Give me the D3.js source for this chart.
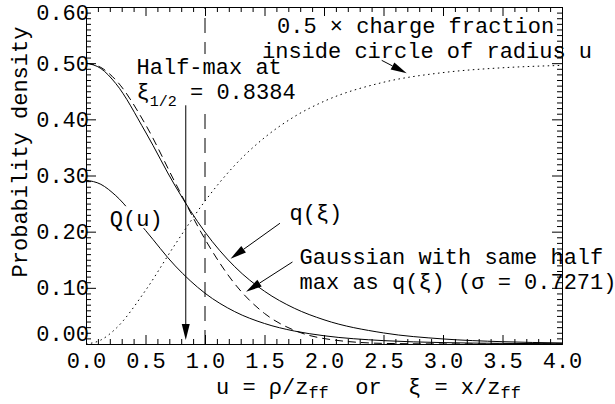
<!DOCTYPE html>
<html>
<head>
<meta charset="utf-8">
<script src="https://cdn.jsdelivr.net/npm/d3@7"></script>
<style>
body { margin: 0; background: #fff; }
svg text { font-family: "Liberation Mono", "DejaVu Sans Mono", monospace; fill: #000; }
</style>
</head>
<body>
<svg id="chart" width="615" height="404"></svg>
<script>
// values
const uValues       = [0, 0.125, 0.25, 0.5, 0.75, 1.0, 1.25, 1.5, 1.75, 2.0, 2.5, 3.0, 3.5, 4.0];
const qValues       = [0.5, 0.4905, 0.4638, 0.3775, 0.2812, 0.1993, 0.1376, 0.0939, 0.0637, 0.0431, 0.0197, 0.0090, 0.0041, 0.0019];
const gaussValues   = [0.5, 0.4924, 0.4701, 0.3908, 0.2871, 0.1866, 0.1071, 0.0544, 0.0244, 0.0097, 0.0011, 0.0001, 0.0, 0.0];
const bigQValues    = [0.2916, 0.2843, 0.2642, 0.2023, 0.1390, 0.0904, 0.0576, 0.0365, 0.0231, 0.0147, 0.0060, 0.0025, 0.0011, 0.0005];
const fractionValues = [0, 0.0071, 0.0273, 0.0953, 0.1776, 0.2545, 0.3182, 0.3674, 0.4047, 0.4321, 0.4660, 0.4832, 0.4918, 0.4960];

const xTicks = [0, 0.5, 1.0, 1.5, 2.0, 2.5, 3.0, 3.5, 4.0];
const yTicks = [0, 0.1, 0.2, 0.3, 0.4, 0.5, 0.6];
const halfMax = 0.8384;

let svg = d3.select('#chart');
let x = d3.scaleLinear().domain([0, 4]).range([86, 562]);
let y = d3.scaleLinear().domain([0, 0.6]).range([344, 7]);

svg.append('clipPath').attr('id', 'plot-clip')
    .append('rect')
    .attr('x', x(0)).attr('y', y(0.6))
    .attr('width', x(4) - x(0)).attr('height', y(0) - y(0.6));

let plot = svg.append('g').attr('clip-path', 'url(#plot-clip)');

let line = d3.line()
    .x((d, i) => x(uValues[i]))
    .y(d => y(d))
    .curve(d3.curveMonotoneX);

function drawCurve(values, dash) {
    plot.append('path')
        .attr('d', line(values))
        .attr('fill', 'none')
        .attr('stroke', '#000')
        .attr('stroke-width', 1)
        .attr('stroke-dasharray', dash);
}

drawCurve(qValues, null);
drawCurve(gaussValues, '8,5');
drawCurve(bigQValues, null);
drawCurve(fractionValues, '1.5,3.5');

// dashed line at u = 1
plot.append('line')
    .attr('x1', x(1)).attr('x2', x(1))
    .attr('y1', y(0.6)).attr('y2', y(0))
    .attr('stroke', '#000')
    .attr('stroke-dasharray', '15,9')
    .attr('stroke-dashoffset', 13);

// labels (one text per label, lines as tspans); white boxes go under all texts
let boxes = svg.append('g');
let labels = svg.append('g');

function addLabel(lines) {
    let box = boxes.append('rect').attr('fill', '#fff');
    let t = labels.append('text').style('font-size', '22px');
    lines.forEach(ln => {
        ln.parts.forEach((p, i) => {
            let s = t.append('tspan').text(p.text);
            if (i === 0) s.attr('x', x(ln.u)).attr('y', y(ln.v));
            if (p.sub) s.style('font-size', '15px').attr('dy', 7);
            if (p.back) s.attr('dy', -7);
        });
    });
    let bb = t.node().getBBox();
    box.attr('x', bb.x - 1).attr('y', bb.y - 2)
        .attr('width', bb.width + 2).attr('height', bb.height - 3);
}

addLabel([
    {u: 1.605, v: 0.5545, parts: [{text: '0.5 × charge fraction'}]},
    {u: 1.479, v: 0.51, parts: [{text: 'inside circle of radius u'}]}
]);
addLabel([
    {u: 0.425, v: 0.4807, parts: [{text: 'Half-max at'}]},
    {u: 0.425, v: 0.4362, parts: [{text: 'ξ'}, {text: '1/2', sub: true}, {text: ' = 0.8384', back: true}]}
]);
addLabel([{u: 0.2, v: 0.2098, parts: [{text: 'Q(u)'}]}]);
addLabel([{u: 1.71, v: 0.2204, parts: [{text: 'q(ξ)'}]}]);
addLabel([
    {u: 1.795, v: 0.1425, parts: [{text: 'Gaussian with same half'}]},
    {u: 1.795, v: 0.098, parts: [{text: 'max as q(ξ) (σ = 0.7271)'}]}
]);

// arrows
let arrows = svg.append('g');

function drawArrow(from, to, halo) {
    let x0 = x(from[0]), y0 = y(from[1]);
    let x1 = x(to[0]), y1 = y(to[1]);
    let len = Math.hypot(x1 - x0, y1 - y0);
    let ux = (x1 - x0) / len, uy = (y1 - y0) / len;
    let headLen = 16, headW = 4;
    let bx = x1 - ux * headLen, by = y1 - uy * headLen;
    if (halo) {
        arrows.append('line')
            .attr('x1', x0).attr('y1', y0).attr('x2', bx).attr('y2', by)
            .attr('stroke', '#fff').attr('stroke-width', 14);
    }
    arrows.append('line')
        .attr('x1', x0).attr('y1', y0).attr('x2', bx).attr('y2', by)
        .attr('stroke', '#000').attr('stroke-width', 1);
    arrows.append('path')
        .attr('d', `M${x1},${y1}L${bx - uy * headW},${by + ux * headW}L${bx + uy * headW},${by - ux * headW}Z`)
        .attr('fill', '#000');
}

drawArrow([halfMax, 0.425], [halfMax, 0.007], false);
drawArrow([1.63, 0.215], [1.215, 0.152], false);
drawArrow([1.735, 0.146], [1.345, 0.093], true);
drawArrow([2.485, 0.505], [2.695, 0.482], false);

// axes
let fmtX = d3.format('.1f');
let fmtY = d3.format('.2f');
let xMinor = d3.range(0, 4.0001, 0.1).filter(v => Math.abs(v * 2 - Math.round(v * 2)) > 1e-6);
let yMinor = d3.range(0, 0.6001, 0.01).filter(v => Math.abs(v * 10 - Math.round(v * 10)) > 1e-6);

function styleAxis(g) {
    g.selectAll('path, line').attr('stroke', '#000').attr('stroke-width', 1);
    g.selectAll('text').style('font-size', '22px').attr('fill', '#000')
        .style('font-family', '"Liberation Mono", monospace');
}

svg.append('g').attr('transform', `translate(0,${y(0)})`)
    .call(d3.axisBottom(x).tickValues(xTicks).tickFormat(fmtX).tickSize(-9).tickSizeOuter(0).tickPadding(8.5))
    .call(styleAxis);
svg.append('g').attr('transform', `translate(0,${y(0)})`)
    .call(d3.axisBottom(x).tickValues(xMinor).tickFormat('').tickSize(-5).tickSizeOuter(0))
    .call(styleAxis);
svg.append('g').attr('transform', `translate(0,${y(0.6)})`)
    .call(d3.axisTop(x).tickValues(xTicks).tickFormat('').tickSize(-9).tickSizeOuter(0))
    .call(styleAxis);
svg.append('g').attr('transform', `translate(0,${y(0.6)})`)
    .call(d3.axisTop(x).tickValues(xMinor).tickFormat('').tickSize(-5).tickSizeOuter(0))
    .call(styleAxis);

let leftAxis = svg.append('g').attr('transform', `translate(${x(0)},0)`)
    .call(d3.axisLeft(y).tickValues(yTicks).tickFormat(fmtY).tickSize(-10).tickSizeOuter(0).tickPadding(-3))
    .call(styleAxis);
leftAxis.selectAll('text').filter(d => d === 0.6).attr('dy', '0.55em');
leftAxis.selectAll('text').filter(d => d === 0).attr('dy', '-0.14em');
svg.append('g').attr('transform', `translate(${x(0)},0)`)
    .call(d3.axisLeft(y).tickValues(yMinor).tickFormat('').tickSize(-5).tickSizeOuter(0))
    .call(styleAxis);
svg.append('g').attr('transform', `translate(${x(4)},0)`)
    .call(d3.axisRight(y).tickValues(yTicks).tickFormat('').tickSize(-10).tickSizeOuter(0))
    .call(styleAxis);
svg.append('g').attr('transform', `translate(${x(4)},0)`)
    .call(d3.axisRight(y).tickValues(yMinor).tickFormat('').tickSize(-5).tickSizeOuter(0))
    .call(styleAxis);

// axis titles
svg.append('text')
    .attr('transform', `translate(27,152) rotate(-90)`)
    .attr('text-anchor', 'middle')
    .style('font-size', '22px')
    .text('Probability density');

let xTitle = svg.append('text')
    .attr('x', 216).attr('y', 394)
    .style('font-size', '22px')
    .attr('xml:space', 'preserve');
xTitle.append('tspan').text('u = ρ/z');
xTitle.append('tspan').text('ff').style('font-size', '17px').attr('dy', 4);
xTitle.append('tspan').text('  or  ξ = x/z').attr('dy', -4);
xTitle.append('tspan').text('ff').style('font-size', '17px').attr('dy', 4);
</script>
</body>
</html>
